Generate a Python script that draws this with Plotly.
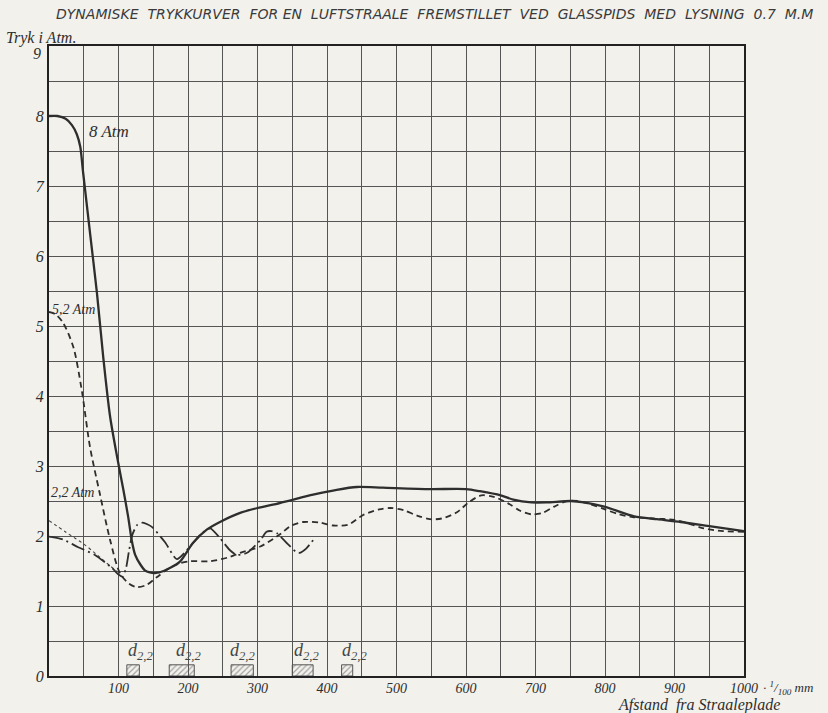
import plotly.graph_objects as go

# ---- data ----
x_8atm = [0, 12, 24, 33, 40, 45, 49, 59, 69, 78, 88, 98, 107, 114, 119, 124, 131, 138, 145, 152,
          165, 188, 207, 227, 246, 275, 300, 332, 380, 414, 443, 480, 548, 600, 620, 650, 668,
          694, 716, 751, 770, 799, 842, 875, 909, 950, 1000]
y_8atm = [8.0, 8.0, 7.96, 7.87, 7.74, 7.56, 7.2, 6.33, 5.47, 4.56, 3.7, 3.13, 2.66, 2.27, 1.94, 1.73,
          1.6, 1.51, 1.48, 1.47, 1.5, 1.63, 1.9, 2.09, 2.2, 2.33, 2.4, 2.47, 2.59, 2.66, 2.7,
          2.69, 2.67, 2.67, 2.64, 2.58, 2.52, 2.48, 2.48, 2.5, 2.48, 2.42, 2.28, 2.24, 2.2,
          2.14, 2.07]

x_52atm = [0, 9, 20, 35, 47, 59, 73, 88, 102, 115, 126, 140, 155, 170, 188, 203, 232, 260, 275,
           304, 332, 347, 366, 390, 409, 430, 452, 475, 491, 510, 530, 548, 565, 587, 605, 622,
           640, 660, 678, 694, 710, 727, 745, 760, 780, 800, 820, 840, 870, 900, 920, 942, 970,
           1000]
y_52atm = [5.2, 5.17, 5.05, 4.7, 4.09, 3.27, 2.61, 1.94, 1.47, 1.32, 1.27, 1.3, 1.41, 1.52, 1.61,
           1.64, 1.64, 1.7, 1.76, 1.85, 2.02, 2.14, 2.2, 2.19, 2.15, 2.16, 2.3, 2.38, 2.4, 2.37,
           2.29, 2.24, 2.25, 2.34, 2.49, 2.58, 2.56, 2.47, 2.36, 2.31, 2.33, 2.42, 2.5, 2.5,
           2.45, 2.38, 2.31, 2.27, 2.25, 2.23, 2.18, 2.11, 2.07, 2.06]

x_22atm = [0, 20, 42, 66, 91, 100, 106, 111, 115, 120, 127, 135, 148, 167, 184, 203, 217,
           232, 246, 260, 270, 285, 304, 313, 320, 328, 342, 356, 361, 370, 380]
y_22atm = [1.99, 1.95, 1.84, 1.73, 1.54, 1.45, 1.42, 1.55, 1.78, 2.02, 2.16, 2.19, 2.13, 1.91,
           1.67, 1.85, 2.01, 2.11, 1.97, 1.8, 1.73, 1.76, 1.94, 2.06, 2.07, 2.04, 1.9,
           1.77, 1.76, 1.82, 1.94]

x_22start = [0, 25, 52, 75, 98]
y_22start = [2.22, 2.05, 1.87, 1.68, 1.49]

# hatched marks d_2,2 on the axis
d_center = [121, 191, 278, 365, 429]
d_width = [18, 36, 32, 30, 16]
d_height = [0.16, 0.16, 0.16, 0.16, 0.16]
d_label_x = [132, 201, 279, 371, 440]
d_label_y = 0.35

x_ticks = [100, 200, 300, 400, 500, 600, 700, 800, 900, 1000]
y_ticks = [0, 1, 2, 3, 4, 5, 6, 7, 8]

title_text = "DYNAMISKE  TRYKKURVER  FOR EN  LUFTSTRAALE  FREMSTILLET  VED  GLASSPIDS  MED  LYSNING  0.7  M.M"

PAPER = "#f2f1ec"
INK = "#2e2e2e"
SERIF = "Liberation Serif"

fig = go.Figure()

fig.add_trace(go.Bar(x=d_center, y=d_height, width=d_width, base=0,
                     marker=dict(color="rgba(0,0,0,0)", line=dict(color="#555", width=1),
                                 pattern=dict(shape="/", fgcolor="#555", size=4, solidity=0.3)),
                     showlegend=False, hoverinfo="skip"))

fig.add_trace(go.Scatter(x=x_22start, y=y_22start, mode="lines", line=dict(color="#444", width=1.1,
                         dash="3px,3px", shape="spline"), showlegend=False))
fig.add_trace(go.Scatter(x=x_52atm, y=y_52atm, mode="lines", line=dict(color=INK, width=1.8,
                         dash="6px,4px", shape="spline", smoothing=0.8), name="5,2 Atm", showlegend=False))
fig.add_trace(go.Scatter(x=x_22atm, y=y_22atm, mode="lines", line=dict(color=INK, width=1.8,
                         dash="14px,4px,2px,4px", shape="spline", smoothing=0.6), name="2,2 Atm",
                         showlegend=False))
fig.add_trace(go.Scatter(x=x_8atm, y=y_8atm, mode="lines", line=dict(color=INK, width=2.3,
                         shape="spline", smoothing=0.7), name="8 Atm", showlegend=False))

annotations = []
for xl in d_label_x:
    annotations.append(dict(x=xl, y=d_label_y, xref="x", yref="y", showarrow=False,
                            text="<i>d<sub>2,2</sub></i>", font=dict(family=SERIF, size=18, color="#444")))

annotations += [
    dict(x=0, y=9, xref="paper", yref="y", xshift=-6, yshift=-7, text="<i>9</i>", showarrow=False,
         xanchor="right", font=dict(family=SERIF, size=16, color=INK)),
    dict(x=55, y=7.78, xref="x", yref="y", text="<i>8 Atm</i>", showarrow=False, xanchor="left",
         font=dict(family=SERIF, size=17, color=INK)),
    dict(x=2, y=5.24, xref="x", yref="y", text="<i>5,2 Atm</i>", showarrow=False, xanchor="left",
         font=dict(family=SERIF, size=14, color=INK)),
    dict(x=0, y=2.62, xref="x", yref="y", text="<i>2,2 Atm</i>", showarrow=False, xanchor="left",
         font=dict(family=SERIF, size=14, color=INK)),
    dict(x=0, y=1, xref="paper", yref="paper", xshift=-45, yshift=8, text="<i>Tryk i Atm.</i>",
         showarrow=False, xanchor="left", yanchor="middle", font=dict(family=SERIF, size=16, color=INK)),
    dict(x=1000, y=0, xref="x", yref="paper", xshift=17, yshift=-12, text="<i>· <sup>1</sup>/<sub>100</sub> mm</i>",
         showarrow=False, xanchor="left", yanchor="middle", font=dict(family=SERIF, size=13, color=INK)),
    dict(x=0.935, y=0, xref="paper", yref="paper", yshift=-29, text="<i>Afstand  fra Straaleplade</i>",
         showarrow=False, xanchor="center", yanchor="middle", font=dict(family=SERIF, size=16, color=INK)),
    dict(x=0.5, y=1, xref="paper", yref="paper", xshift=38, yshift=32, text="<i>" + title_text + "</i>",
         showarrow=False, xanchor="center", yanchor="middle",
         font=dict(family="DejaVu Sans", size=14, color="#3a3a3a")),
]

fig.update_layout(
    width=828, height=713,
    margin=dict(l=49, r=84, t=46, b=37),
    paper_bgcolor=PAPER, plot_bgcolor=PAPER,
    barmode="overlay",
    annotations=annotations,
    showlegend=False,
)
fig.update_xaxes(range=[0, 1000], showgrid=True, gridcolor="#555", gridwidth=1,
                 showline=True, linecolor="#222", linewidth=2, mirror=True, zeroline=False,
                 tickmode="array", tickvals=x_ticks,
                 ticktext=["<i>%d</i>" % v for v in x_ticks], ticks="",
                 tickfont=dict(family=SERIF, size=14, color=INK), ticklabelstandoff=-2,
                 minor=dict(dtick=50, tick0=0, showgrid=True, gridcolor="#555", gridwidth=1))
fig.update_yaxes(range=[0, 9], showgrid=True, gridcolor="#555", gridwidth=1,
                 showline=True, linecolor="#222", linewidth=2, mirror=True, zeroline=False,
                 tickmode="array", tickvals=y_ticks,
                 ticktext=["<i>%d</i>" % v for v in y_ticks], ticks="",
                 tickfont=dict(family=SERIF, size=16, color=INK),
                 minor=dict(dtick=0.5, tick0=0, showgrid=True, gridcolor="#555", gridwidth=1))

fig.write_html("out.html")
